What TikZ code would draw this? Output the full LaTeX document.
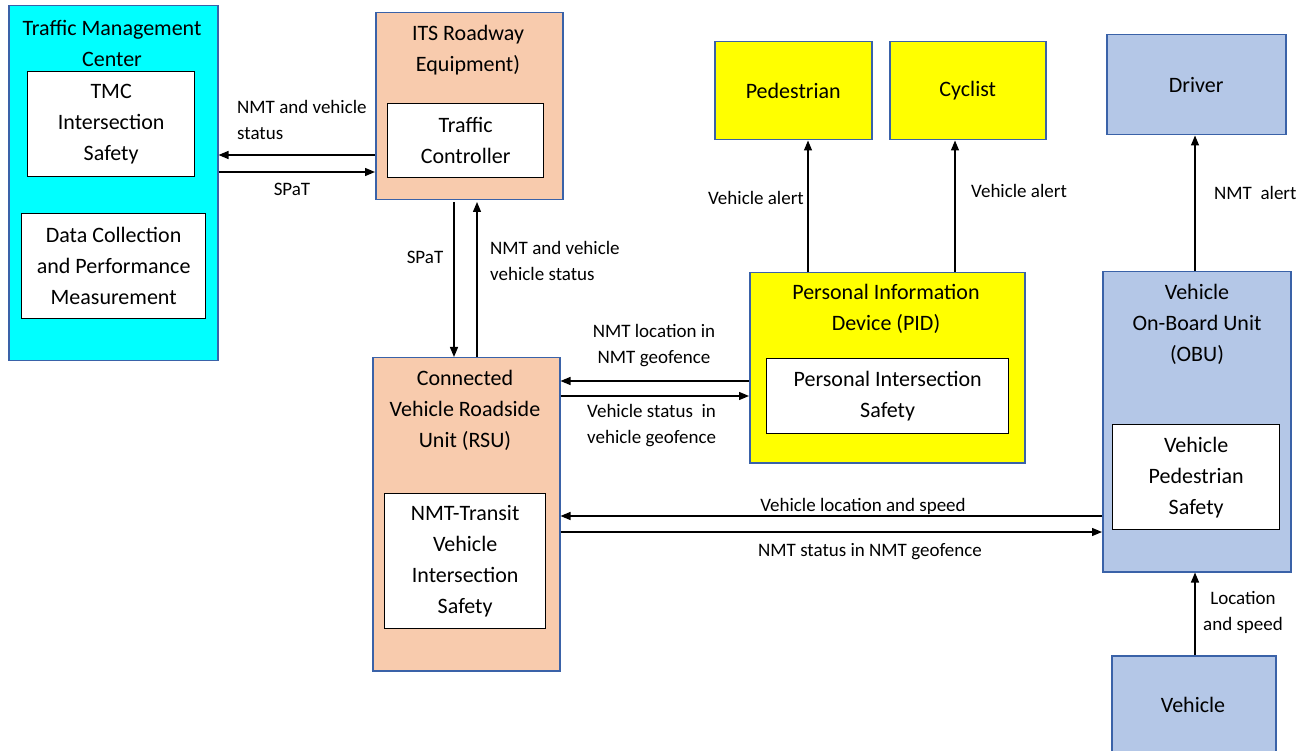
\documentclass[tikz,border=0pt]{standalone}
\usepackage{fontspec}
\setmainfont{Carlito}
\usetikzlibrary{arrows.meta}
\definecolor{tmccyan}{HTML}{00FFFF}
\definecolor{peach}{HTML}{F8CBAD}
\definecolor{pidyellow}{HTML}{FFFF00}
\definecolor{vehblue}{HTML}{B4C7E7}
\definecolor{edgeblue}{HTML}{3A62A8}
\newcommand\bxfont{\fontsize{22}{31}\selectfont}
\newcommand\lbfont{\fontsize{19}{26}\selectfont}
\begin{document}
\begin{tikzpicture}[x=1pt,y=-1pt,
  outer/.style={draw=edgeblue, line width=1.5pt, anchor=north west, inner sep=0pt, font=\bxfont, align=center},
  inner/.style={draw=black, fill=white, line width=1.3pt, anchor=north west, inner sep=0pt, font=\bxfont, align=center},
  title/.style={font=\bxfont, align=center, inner sep=0pt},
  lbl/.style={font=\lbfont, inner sep=0pt},
  flow/.style={line width=1.3pt, -{Triangle[length=10pt,width=8pt]}}]
\useasboundingbox (0,0) rectangle (1310,751);
\clip (0,0) rectangle (1310,751);

% Traffic Management Center
\node[outer, fill=tmccyan, minimum width=209pt, minimum height=355pt] (tmc) at (8,5) {};
\node[title] (tmctitle) at (112,43) {Traffic Management\\Center};
\node[inner, minimum width=167pt, minimum height=105pt] (tmcsafety) at (27,71) {TMC\\Intersection\\Safety};
\node[inner, minimum width=184pt, minimum height=105pt] (datacoll) at (21,213) {Data Collection\\and Performance\\Measurement};

% ITS Roadway Equipment
\node[outer, fill=peach, minimum width=187pt, minimum height=187pt] (its) at (375,12) {};
\node[title] (itstitle) at (468,50) {ITS Roadway\\Equipment)};
\node[inner, minimum width=156pt, minimum height=74pt] (tc) at (387,103) {Traffic\\Controller};

% Connected Vehicle Roadside Unit
\node[outer, fill=peach, minimum width=187pt, minimum height=313pt] (rsu) at (372,357) {};
\node[title] (rsutitle) at (465,410) {Connected\\Vehicle Roadside\\Unit (RSU)};
\node[inner, minimum width=161pt, minimum height=135pt] (nmtsafety) at (384,493) {NMT-Transit\\Vehicle\\Intersection\\Safety};

% Personal Information Device
\node[outer, fill=pidyellow, minimum width=275pt, minimum height=190pt] (pid) at (749,272) {};
\node[title] (pidtitle) at (886,309) {Personal Information\\Device (PID)};
\node[inner, minimum width=242pt, minimum height=75pt] (pidsafety) at (766,358) {Personal Intersection\\Safety};

% Pedestrian and Cyclist
\node[outer, fill=pidyellow, minimum width=157pt, minimum height=98pt] (ped) at (714,41) {Pedestrian};
\node[outer, fill=pidyellow, minimum width=156pt, minimum height=98pt] (cyc) at (889,41) {Cyclist};

% Driver, On-Board Unit, Vehicle
\node[outer, fill=vehblue, minimum width=179pt, minimum height=100pt] (driver) at (1106,34) {Driver};
\node[outer, fill=vehblue, minimum width=188pt, minimum height=300pt] (obu) at (1102,271) {};
\node[title] (obutitle) at (1197,324) {Vehicle\\On-Board Unit\\(OBU)};
\node[inner, minimum width=167pt, minimum height=105pt] (obusafety) at (1112,424) {Vehicle\\Pedestrian\\Safety};
\node[outer, fill=vehblue, minimum width=164pt, minimum height=120pt] (vehicle) at (1111,655) {};
\node[title] (vehtext) at (1193,705) {Vehicle};

% TMC <-> ITS
\draw[flow] (its.west |- 0,155) -- (tmc.east |- 0,155);
\draw[flow] (tmc.east |- 0,172) -- (its.west |- 0,172);
\node[lbl, anchor=west, align=left] (l1) at (237,120) {NMT and vehicle\\status};
\node[lbl] (l2) at (292,189) {SPaT};

% ITS <-> RSU
\draw[flow] (454,202) -- (rsu.north -| 454,0);
\draw[flow] (rsu.north -| 477,0) -- (477,202);
\node[lbl] (l3) at (425,257) {SPaT};
\node[lbl, anchor=west, align=left] (l4) at (490,261) {NMT and vehicle\\vehicle status};

% PID <-> RSU
\draw[flow] (pid.west |- 0,381) -- (rsu.east |- 0,381);
\draw[flow] (rsu.east |- 0,396) -- (pid.west |- 0,396);
\node[lbl, align=center] (l5) at (654,346) {NMT location in\\NMT geofence};
\node[lbl, anchor=west, align=left] (l6) at (587,426) {Vehicle status~ in\\vehicle geofence};

% PID -> Pedestrian, Cyclist
\draw[flow] (pid.north -| 808,0) -- (ped.south -| 808,0);
\draw[flow] (pid.north -| 955,0) -- (cyc.south -| 955,0);
\node[lbl, anchor=east] (l7) at (804,198) {Vehicle alert};
\node[lbl, anchor=west] (l8) at (971,191) {Vehicle alert};

% OBU -> Driver
\draw[flow] (obu.north -| 1195,0) -- (driver.south -| 1195,0);
\node[lbl, anchor=west] (l9) at (1214,193) {NMT~ alert};

% OBU <-> RSU
\draw[flow] (obu.west |- 0,516) -- (rsu.east |- 0,516);
\draw[flow] (rsu.east |- 0,532) -- (obu.west |- 0,532);
\node[lbl] (l10) at (863,506) {Vehicle location and speed};
\node[lbl] (l11) at (870,552) {NMT status in NMT geofence};

% Vehicle -> OBU
\draw[flow] (vehicle.north -| 1195,0) -- (obu.south -| 1195,0);
\node[lbl, align=center] (l12) at (1243,612) {Location\\and speed};
\end{tikzpicture}
\end{document}
